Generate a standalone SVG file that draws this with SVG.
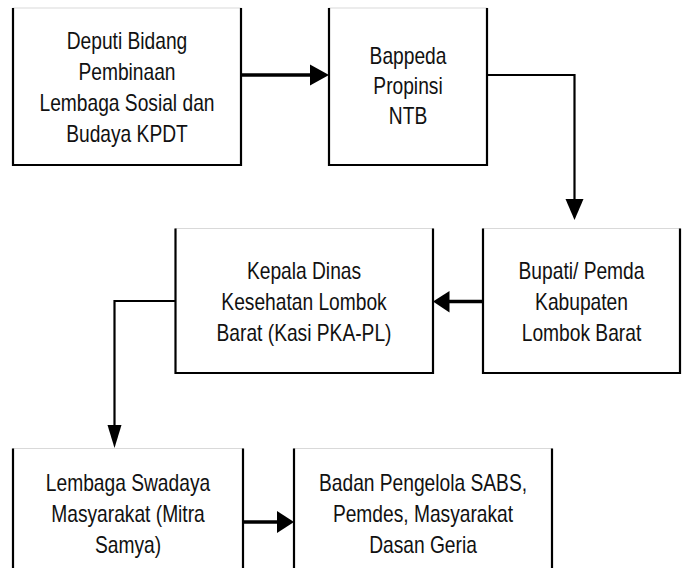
<svg xmlns="http://www.w3.org/2000/svg" width="686" height="568" viewBox="0 0 686 568">
<style>
.bg{fill:#ffffff;stroke:#d9d9d9;stroke-width:1}
.side{fill:none;stroke:#000;stroke-width:2.2}
.t{font-family:"Liberation Sans",Arial,sans-serif;font-size:24px;fill:#111;text-anchor:middle}
.thick{fill:none;stroke:#000;stroke-width:3.5}
.thin{fill:none;stroke:#000;stroke-width:2.2}
.head{fill:#000;stroke:none}
</style>
<rect width="686" height="568" fill="#fff"/>
<g id="node-deputi">
<rect class="bg" x="13" y="8" width="228" height="157"/>
<path class="side" d="M13,8 V165 H241 V8"/>
<g transform="translate(127,0) scale(0.8,1)">
<text class="t" x="0" y="49">Deputi Bidang</text>
<text class="t" x="0" y="80">Pembinaan</text>
<text class="t" x="0" y="111">Lembaga Sosial dan</text>
<text class="t" x="0" y="142">Budaya KPDT</text>
</g>
</g>
<g id="node-bappeda">
<rect class="bg" x="329" y="8" width="158" height="157"/>
<path class="side" d="M329,8 V165 H487 V8"/>
<g transform="translate(408,0) scale(0.8,1)">
<text class="t" x="0" y="64">Bappeda</text>
<text class="t" x="0" y="94">Propinsi</text>
<text class="t" x="0" y="124">NTB</text>
</g>
</g>
<g id="node-kepala">
<rect class="bg" x="175.5" y="228.5" width="257.5" height="144.5"/>
<path class="side" d="M175.5,228.5 V373 H433 V228.5"/>
<g transform="translate(304,0) scale(0.8,1)">
<text class="t" x="0" y="279">Kepala Dinas</text>
<text class="t" x="0" y="310">Kesehatan Lombok</text>
<text class="t" x="0" y="341">Barat (Kasi PKA-PL)</text>
</g>
</g>
<g id="node-bupati">
<rect class="bg" x="483" y="228.5" width="197" height="144.5"/>
<path class="side" d="M483,228.5 V373 H680 V228.5"/>
<g transform="translate(581.5,0) scale(0.8,1)">
<text class="t" x="0" y="279">Bupati/ Pemda</text>
<text class="t" x="0" y="310">Kabupaten</text>
<text class="t" x="0" y="341">Lombok Barat</text>
</g>
</g>
<g id="node-lembaga">
<rect class="bg" x="13" y="448.5" width="230" height="130"/>
<path class="side" d="M13,570 V448.5 M243,448.5 V570"/>
<g transform="translate(128,0) scale(0.8,1)">
<text class="t" x="0" y="491">Lembaga Swadaya</text>
<text class="t" x="0" y="522">Masyarakat (Mitra</text>
<text class="t" x="0" y="553">Samya)</text>
</g>
</g>
<g id="node-badan">
<rect class="bg" x="294" y="448.5" width="258" height="130"/>
<path class="side" d="M294,570 V448.5 M552,448.5 V570"/>
<g transform="translate(423,0) scale(0.8,1)">
<text class="t" x="0" y="491">Badan Pengelola SABS,</text>
<text class="t" x="0" y="522">Pemdes, Masyarakat</text>
<text class="t" x="0" y="553">Dasan Geria</text>
</g>
</g>
<g id="connectors">
<path class="thick" d="M241,75 H312"/>
<polygon class="head" points="310,64.5 329,75 310,85.5"/>
<path class="thin" d="M487,75 H574.5 V201"/>
<polygon class="head" points="565.5,199 583.5,199 574.5,220"/>
<path class="thick" d="M483,301.5 H447"/>
<polygon class="head" points="449.5,291 433,301.5 449.5,312.5"/>
<path class="thin" d="M175.5,301 H114.5 V427"/>
<polygon class="head" points="107.5,425 121.5,425 114.5,448"/>
<path class="thick" d="M243,522 H279"/>
<polygon class="head" points="277,511 294,522 277,533"/>
</g>
</svg>
